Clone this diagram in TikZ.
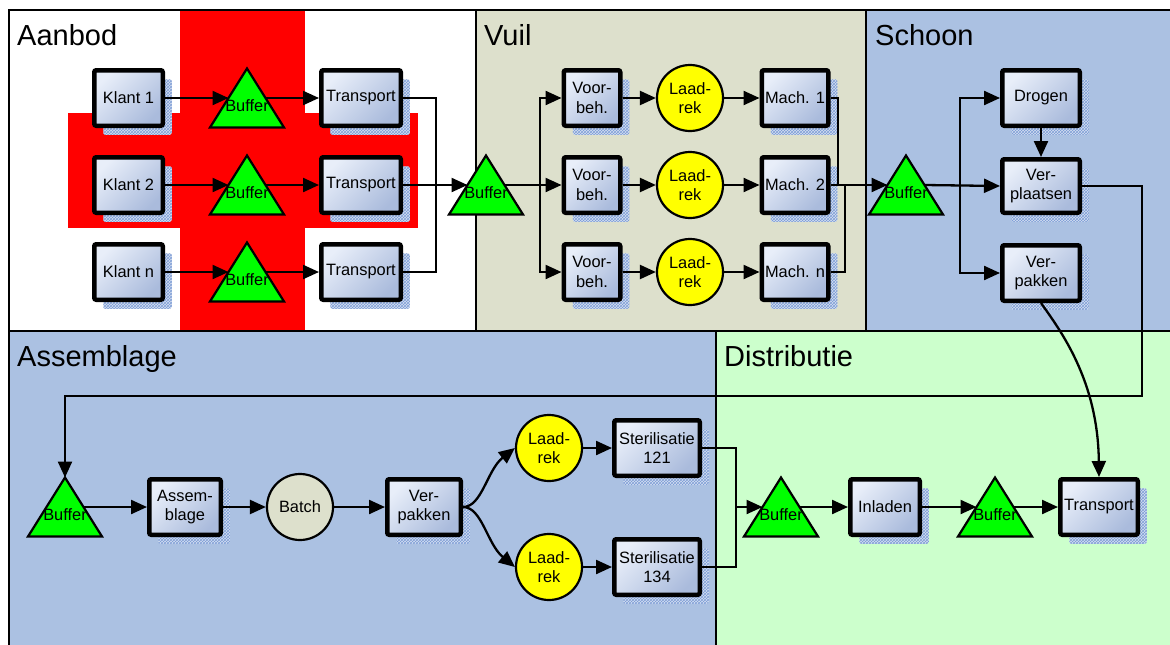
\documentclass[tikz,border=0pt]{standalone}
\usepackage{fontspec}
\setmainfont{Liberation Sans}
\usetikzlibrary{arrows.meta,calc,shadows,patterns}

\definecolor{vuilbg}{HTML}{DDE0CC}
\definecolor{blauwbg}{HTML}{ABC1E2}
\definecolor{groenbg}{HTML}{CCFFCC}
\definecolor{bufgreen}{HTML}{00FF00}
\definecolor{rekgeel}{HTML}{FFFF00}
\definecolor{boxlt}{HTML}{E8EEF9}
\definecolor{boxdk}{HTML}{AABBDC}
\definecolor{shadowbg}{HTML}{D6E0F2}
\definecolor{shadowln}{HTML}{7E9ED6}

\newcommand\lbl{\fontsize{16.4}{19.5}\selectfont}
\newcommand\ttl{\fontsize{29}{33}\selectfont}

\tikzset{
  box/.style={draw=black, line width=4.5pt, rounded corners=2pt,
    top color=boxlt, bottom color=boxdk, shading angle=45,
    minimum height=55.5pt, inner sep=1pt, align=center, font=\lbl,
    general shadow={shadow xshift=9pt, shadow yshift=-9pt, fill=shadowbg},
    general shadow={shadow xshift=9pt, shadow yshift=-9pt, pattern=crosshatch, pattern color=shadowln}},
  rek/.style={circle, draw=black, line width=2.2pt, fill=rekgeel,
    minimum size=66pt, inner sep=0pt, align=center, font=\lbl},
  batch/.style={rek, fill=vuilbg},
  bufshape/.style={rectangle, draw=none, minimum width=74pt, minimum height=59pt,
    inner sep=0pt, outer sep=0pt},
  buftri/.style={fill=bufgreen, draw=black, line width=2.2pt},
  buftext/.style={inner sep=0pt, font=\lbl},
  title/.style={anchor=base west, inner sep=0pt, font=\ttl},
  ln/.style={line width=2.3pt},
  arr/.style={ln, -{Triangle[length=16pt,width=14pt]}},
  frame/.style={line width=2.5pt},
}

% buffer triangle: name, x, y
\newcommand\buffer[3]{%
  \path (#2,#3) node[bufshape] (#1) {};
  \draw[buftri] (#1.south west) -- (#1.north) -- (#1.south east) -- cycle;
  \node[buftext] (#1-t) at ([yshift=-8pt]#1.center) {Buffer};
  \coordinate (#1-w) at ($(#1.south west)!.5!(#1.north)$);
  \coordinate (#1-e) at ($(#1.south east)!.5!(#1.north)$);
}

\begin{document}
\begin{tikzpicture}[x=1pt, y=-1pt]
\useasboundingbox (0,0) rectangle (1170,645);

% panel backgrounds
\fill[white] (9,10) rectangle (476,331);
\fill[red] (180,10) rectangle (305,331);
\fill[red] (68,113) rectangle (418,228);
\fill[vuilbg] (476,10) rectangle (866,331);
\fill[blauwbg] (866,10) rectangle (1172,331);
\fill[blauwbg] (9,331) rectangle (716,647);
\fill[groenbg] (716,331) rectangle (1172,647);

% panel borders
\draw[frame] (1172,10) -- (9,10) -- (9,647);
\draw[frame] (9,331) -- (1172,331);
\draw[frame] (476,10) -- (476,331);
\draw[frame] (866,10) -- (866,331);
\draw[frame] (716,331) -- (716,647);

% panel titles
\node[title] (tA) at (17,45) {Aanbod};
\node[title] (tV) at (484,45) {Vuil};
\node[title] (tS) at (875,45) {Schoon};
\node[title] (tAs) at (17,366) {Assemblage};
\node[title] (tD) at (724,366) {Distributie};

% Aanbod
\node[box, minimum width=68.5pt] (k1) at (128.5,98) {Klant 1};
\node[box, minimum width=68.5pt] (k2) at (128.5,185) {Klant 2};
\node[box, minimum width=68.5pt] (k3) at (128.5,272) {Klant n};
\buffer{ba1}{247}{98}
\buffer{ba2}{247}{185}
\buffer{ba3}{247}{272}
\node[box, minimum width=79.5pt] (t1) at (361,98) {Transport};
\node[box, minimum width=79.5pt] (t2) at (361,185) {Transport};
\node[box, minimum width=79.5pt] (t3) at (361,272) {Transport};

% Vuil
\buffer{bv}{486}{185}
\node[box, minimum width=56.5pt] (v1) at (592,98) {Voor-\\beh.};
\node[box, minimum width=56.5pt] (v2) at (592,185) {Voor-\\beh.};
\node[box, minimum width=56.5pt] (v3) at (592,272) {Voor-\\beh.};
\node[rek] (r1) at (690,98) {Laad-\\rek};
\node[rek] (r2) at (690,185) {Laad-\\rek};
\node[rek] (r3) at (690,272) {Laad-\\rek};
\node[box, minimum width=66.5pt] (m1) at (795,98) {Mach. 1};
\node[box, minimum width=66.5pt] (m2) at (795,185) {Mach. 2};
\node[box, minimum width=66.5pt] (m3) at (795,272) {Mach. n};

% Schoon
\buffer{bs}{906}{185}
\node[box, minimum width=77.5pt] (dr) at (1041,98) {Drogen};
\node[box, minimum width=77.5pt, minimum height=53.5pt] (vp) at (1041,186) {Ver-\\plaatsen};
\node[box, minimum width=77.5pt] (vk) at (1041,273) {Ver-\\pakken};

% Assemblage
\buffer{bA}{65}{507}
\node[box, minimum width=71.5pt] (as) at (185,507) {Assem-\\blage};
\node[batch] (bt) at (300,507) {Batch};
\node[box, minimum width=73.5pt] (vA) at (424,507) {Ver-\\pakken};
\node[rek] (r4) at (549,448) {Laad-\\rek};
\node[rek] (r5) at (549,567) {Laad-\\rek};
\node[box, minimum width=85.5pt] (s1) at (657,448) {Sterilisatie\\121};
\node[box, minimum width=85.5pt] (s2) at (657,567) {Sterilisatie\\134};

% Distributie
\buffer{bD1}{781}{507}
\node[box, minimum width=69.5pt] (in) at (885,507) {Inladen};
\buffer{bD2}{995}{507}
\node[box, minimum width=77.5pt] (tr) at (1099,507) {Transport};

% junction points
\coordinate (ja) at (436,185);
\coordinate (jb) at (540,185);
\coordinate (jc1) at (838,185);
\coordinate (jc3) at (845,185);
\coordinate (jd) at (960,185);
\coordinate (jr) at (1142,396);
\coordinate (je) at (736,507);

% Aanbod flows
\foreach \i in {1,2,3}{
  \draw[arr] (k\i.east) -- (ba\i-w);
  \draw[arr] (ba\i-e) -- (t\i.west);
}
\draw[ln] (t1.east) -| (ja);
\draw[ln] (t3.east) -| (ja);
\draw[arr] (t2.east) -- (bv-w);

% Vuil flows
\draw[arr] (bv-e) -- (v2.west);
\draw[arr] (jb) |- (v1.west);
\draw[arr] (jb) |- (v3.west);
\foreach \i in {1,2,3}{
  \draw[arr] (v\i.east) -- (r\i.west);
  \draw[arr] (r\i.east) -- (m\i.west);
}
\draw[ln] (m1.east) -| (jc1);
\draw[ln] (m3.east) -| (jc3);
\draw[arr] (m2.east) -- (bs-w);

% Schoon flows
\draw[arr] (bs-e) -- (vp.west);
\draw[arr] (jd) |- (dr.west);
\draw[arr] (jd) |- (vk.west);
\draw[arr] (dr.south) -- (vp.north);
\draw[arr] (vp.east) -| (jr) -| (bA.north);
\draw[arr] (vk.south) .. controls (1060,330) and (1098,380) .. (tr.north);

% Assemblage flows
\draw[arr] (bA-e) -- (as.west);
\draw[arr] (as.east) -- (bt.west);
\draw[arr] (bt.east) -- (vA.west);
\draw[arr] (vA.east) .. controls (482,507) and (487,470) .. (r4.west);
\draw[arr] (vA.east) .. controls (482,507) and (487,544) .. (r5.west);
\draw[arr] (r4.east) -- (s1.west);
\draw[arr] (r5.east) -- (s2.west);
\draw[ln] (s1.east) -| (je);
\draw[ln] (s2.east) -| (je);

% Distributie flows
\draw[arr] (je) -- (bD1-w);
\draw[arr] (bD1-e) -- (in.west);
\draw[arr] (in.east) -- (bD2-w);
\draw[arr] (bD2-e) -- (tr.west);
\end{tikzpicture}
\end{document}
